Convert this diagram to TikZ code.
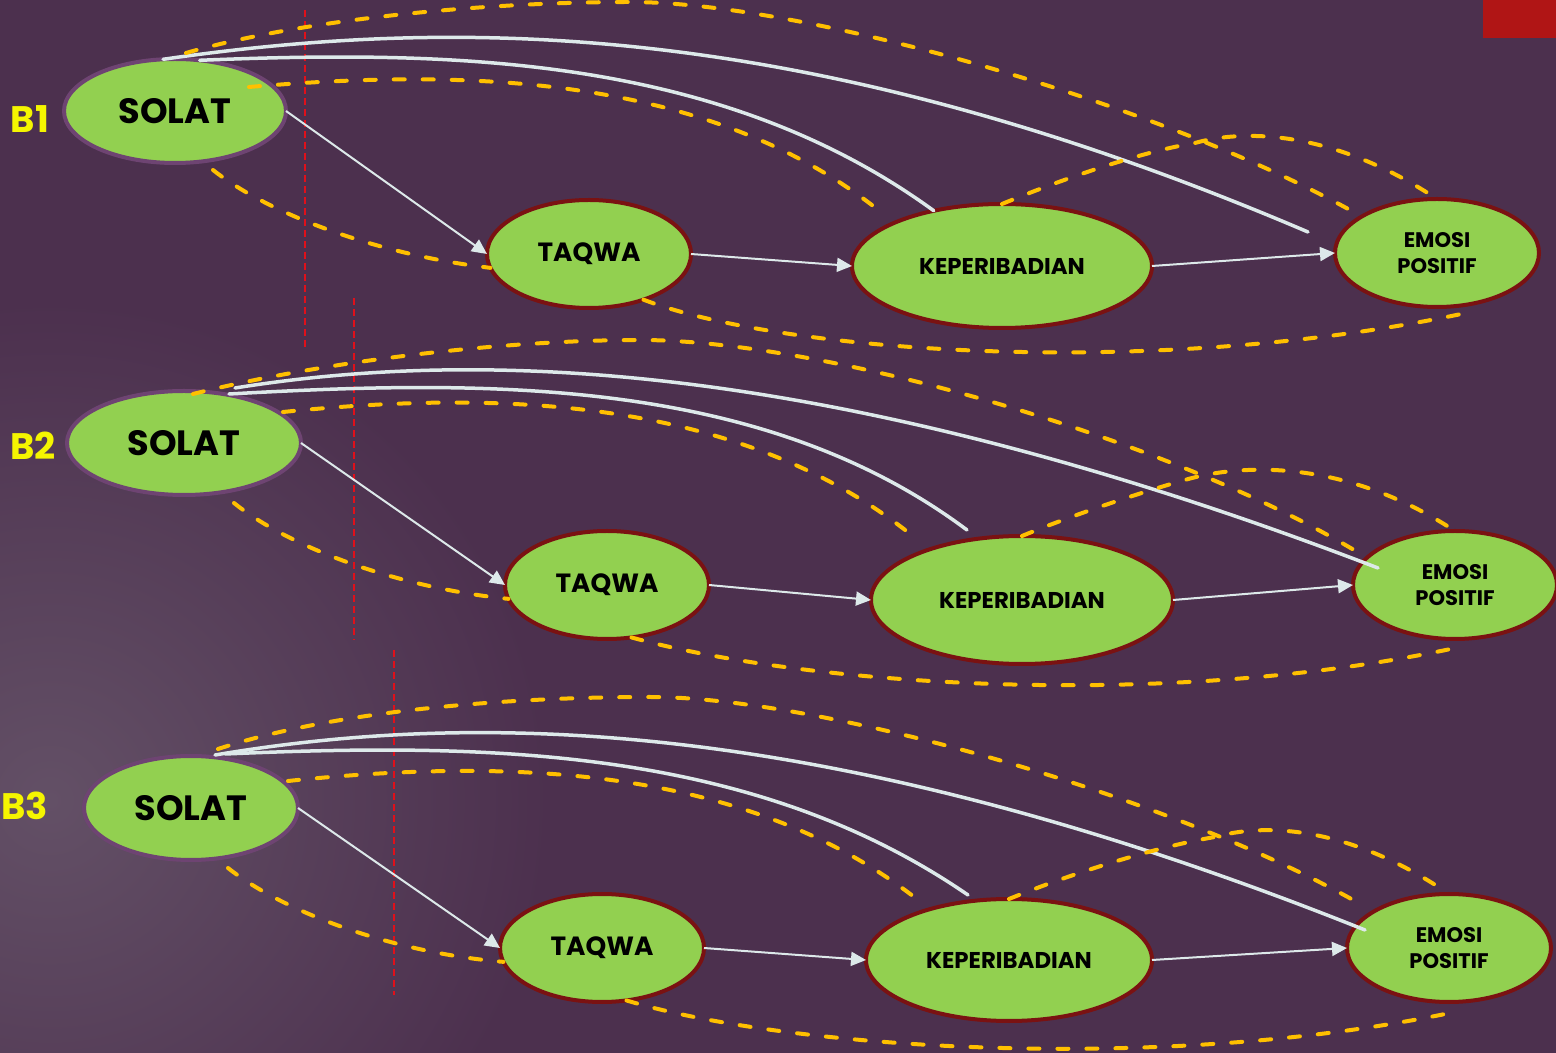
\documentclass[tikz,border=0pt]{standalone}
\usepackage{fontspec}
\setmainfont{Poppins}
\usetikzlibrary{arrows.meta,shapes.geometric}

\definecolor{bgpurple}{HTML}{4C304E}
\definecolor{glow}{HTML}{635066}
\definecolor{leaf}{HTML}{92D050}
\definecolor{maroon}{HTML}{7A1212}
\definecolor{plum}{HTML}{6E4472}
\definecolor{gold}{HTML}{FFC000}
\definecolor{frost}{HTML}{DDE9EA}
\definecolor{signal}{HTML}{E0101A}
\definecolor{banner}{HTML}{B01515}
\definecolor{tag}{HTML}{F5F500}

\newlength\pxu
\setlength\pxu{0.02cm}

\tikzset{
  bubble/.style={ellipse, fill=leaf, draw=maroon, line width=0.08cm,
    inner sep=0pt, outer sep=0pt, text=black, align=center},
  rootbubble/.style={bubble, draw=plum, minimum width=222\pxu, minimum height=104\pxu,
    font=\fontsize{20}{24}\selectfont\bfseries},
  midbubble/.style={bubble, minimum width=204\pxu, minimum height=108\pxu,
    font=\fontsize{15}{18}\selectfont\bfseries},
  bigbubble/.style={bubble, minimum width=300\pxu, minimum height=124\pxu,
    font=\fontsize{13}{16}\selectfont\bfseries},
  endbubble/.style={bubble, minimum width=204\pxu, minimum height=108\pxu,
    font=\fontsize{12}{15}\selectfont\bfseries},
  rowtag/.style={text=tag, font=\fontsize{21}{24}\selectfont\bfseries, inner sep=0pt},
  link/.style={draw=frost, line width=0.04cm, -{Triangle[length=0.3cm,width=0.28cm]}},
  sweep/.style={draw=frost, line width=0.07cm, line cap=round},
  goldtrail/.style={draw=gold, line width=0.08cm, line cap=round,
    dash pattern=on 0.22cm off 0.36cm},
  divider/.style={draw=signal, line width=0.03cm, dash pattern=on 0.14cm off 0.08cm},
}

\begin{document}
\begin{tikzpicture}[x=1\pxu, y=-1\pxu]
  \useasboundingbox (0,0) rectangle (1556,1053);

  % purple backdrop with a soft light patch on the left
  \fill[bgpurple] (0,0) rectangle (1556,1053);
  \begin{scope}
    \clip (0,0) rectangle (1556,1053);
    \shade[inner color=glow, outer color=bgpurple] (-450,300) rectangle (550,1300);
  \end{scope}
  \fill[banner] (1483,0) rectangle (1556,38);

  % vertical red guides
  \draw[divider] (305,10) -- (305,350);
  \draw[divider] (354,298) -- (354,640);
  \draw[divider] (394,650) -- (394,995);

  % ---------------- row B1 ----------------
  \node[rowtag] (b1) at (30,119) {B1};
  \node[rootbubble] (s1) at (175,111) {SOLAT};
  \node[midbubble]  (t1) at (589,254) {TAQWA};
  \node[bigbubble]  (k1) at (1002,266) {KEPERIBADIAN};
  \node[endbubble]  (e1) at (1437,253) {EMOSI\\POSITIF};

  \draw[link] (s1.east) -- (t1.west);
  \draw[link] (t1.east) -- (k1.west);
  \draw[link] (k1.east) -- (e1.west);

  \coordinate (w1) at (1308,232);
  \draw[sweep] (s1.103) .. controls (450,18) and (800,15) .. (w1);
  \draw[sweep] (s1.64) .. controls (450,50) and (720,55) .. (k1.141);

  \draw[goldtrail] ([shift={(11,-58)}]s1.center) .. controls (300,20) and (480,2) .. (630,2)
    .. controls (800,2) and (1150,100) .. ([shift={(-87,-43)}]e1.center);
  \draw[goldtrail] (k1.90) .. controls (1060,180) and (1140,152) .. (1195,143)
    .. controls (1240,130) and (1330,128) .. (e1.90);
  \draw[goldtrail] ([shift={(74,-24)}]s1.center) .. controls (450,70) and (700,70) .. ([shift={(-125,-57)}]k1.center);
  \draw[goldtrail] ([shift={(38,59)}]s1.center) .. controls (270,215) and (380,255) .. (t1.188);
  \draw[goldtrail] (t1.-40) .. controls (780,352) and (1150,380) .. ([shift={(29,60)}]e1.center);

  % ---------------- row B2 ----------------
  \node[rowtag] (b2) at (33,446) {B2};
  \node[rootbubble, minimum width=234\pxu] (s2) at (184,443) {SOLAT};
  \node[midbubble]  (t2) at (607,585) {TAQWA};
  \node[bigbubble, minimum width=302\pxu, minimum height=128\pxu] (k2) at (1022,600) {KEPERIBADIAN};
  \node[endbubble]  (e2) at (1455,585) {EMOSI\\POSITIF};

  \draw[link] (s2.east) -- (t2.west);
  \draw[link] (t2.east) -- (k2.west);
  \draw[link] (k2.east) -- (e2.west);

  \draw[sweep] ([shift={(51,-55)}]s2.center) .. controls (460,352) and (810,350) .. ([shift={(-77,-17)}]e2.center);
  \draw[sweep] ([shift={(45,-49)}]s2.center) .. controls (480,380) and (760,375) .. ([shift={(-55,-70)}]k2.center);

  \draw[goldtrail] ([shift={(9,-49)}]s2.center) .. controls (320,362) and (500,340) .. (640,340)
    .. controls (820,340) and (1160,435) .. ([shift={(-101,-35)}]e2.center);
  \draw[goldtrail] (k2.90) .. controls (1080,512) and (1155,488) .. (1192,478)
    .. controls (1250,463) and (1350,462) .. (e2.90);
  \draw[goldtrail] ([shift={(99,-31)}]s2.center) .. controls (480,392) and (730,392) .. ([shift={(-113,-67)}]k2.center);
  \draw[goldtrail] ([shift={(50,60)}]s2.center) .. controls (290,548) and (400,588) .. (t2.188);
  \draw[goldtrail] (t2.-65) .. controls (800,684) and (1160,712) .. ([shift={(5,62)}]e2.center);

  % ---------------- row B3 ----------------
  \node[rowtag] (b3) at (25,806) {B3};
  \node[rootbubble, minimum width=214\pxu] (s3) at (191,808) {SOLAT};
  \node[midbubble]  (t3) at (602,948) {TAQWA};
  \node[bigbubble, minimum width=286\pxu, minimum height=122\pxu] (k3) at (1009,960) {KEPERIBADIAN};
  \node[endbubble]  (e3) at (1449,948) {EMOSI\\POSITIF};

  \draw[link] (s3.east) -- (t3.west);
  \draw[link] (t3.east) -- (k3.west);
  \draw[link] (k3.east) -- (e3.west);

  \draw[sweep] ([shift={(24,-53)}]s3.center) .. controls (470,712) and (820,712) .. ([shift={(-84,-18)}]e3.center);
  \draw[sweep] ([shift={(34,-54)}]s3.center) .. controls (480,743) and (750,745) .. ([shift={(-41,-65)}]k3.center);

  \draw[goldtrail] ([shift={(27,-59)}]s3.center) .. controls (330,712) and (500,697) .. (650,697)
    .. controls (820,697) and (1170,795) .. ([shift={(-87,-43)}]e3.center);
  \draw[goldtrail] (k3.90) .. controls (1075,872) and (1160,846) .. (1215,837)
    .. controls (1260,824) and (1345,823) .. (e3.90);
  \draw[goldtrail] ([shift={(97,-27)}]s3.center) .. controls (490,760) and (740,760) .. ([shift={(-91,-60)}]k3.center);
  \draw[goldtrail] ([shift={(37,60)}]s3.center) .. controls (285,913) and (395,953) .. (t3.188);
  \draw[goldtrail] (t3.-65) .. controls (780,1047) and (1150,1075) .. ([shift={(1,65)}]e3.center);
\end{tikzpicture}
\end{document}
